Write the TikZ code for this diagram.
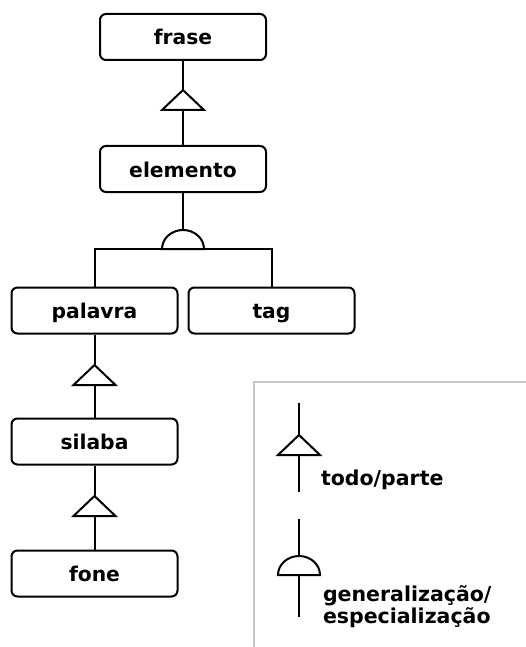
\documentclass[tikz,border=0pt]{standalone}
\usepackage{fontspec}
\setmainfont{DejaVu Sans}
\begin{document}
\begin{tikzpicture}[x=1pt,y=-1pt,
  line width=2pt,
  classbox/.style={draw=black, line width=2pt, rounded corners=6pt,
    minimum width=166pt, minimum height=46pt, inner sep=0pt,
    text height=16pt, text depth=0pt,
    font=\fontsize{20.3}{22}\selectfont\bfseries},
  legendtext/.style={anchor=base west, inner sep=0pt,
    font=\fontsize{20.5}{22}\selectfont\bfseries},
  wholepart/.pic={\draw[fill=white, line width=2pt, line join=miter]
    (0,0) -- (21,20) -- (-21,20) -- cycle;},
  genspec/.pic={\draw[fill=white, line width=2pt]
    (-21,0) arc[start angle=180, end angle=360, x radius=21, y radius=19] -- cycle;}
]
\useasboundingbox (0,0) rectangle (526,647);

% classes
\node[classbox] (frase)    at (183,37)    {frase};
\node[classbox] (elemento) at (183,169)   {elemento};
\node[classbox] (palavra)  at (94.5,310.5) {palavra};
\node[classbox] (tag)      at (271.5,310.5) {tag};
\node[classbox] (silaba)   at (94.5,441.5) {silaba};
\node[classbox] (fone)     at (94.5,573.5) {fone};

% whole/part links
\draw (frase) -- (elemento);
\pic at (183,90) {wholepart};
\draw (palavra) -- (silaba);
\pic at (94.5,365) {wholepart};
\draw (silaba) -- (fone);
\pic at (94.5,496) {wholepart};

% generalization/specialization fork
\coordinate (fork) at (183,249);
\coordinate (forkL) at (palavra.north |- fork);
\coordinate (forkR) at (tag.north |- fork);
\draw (elemento) -- (fork);
\draw (palavra.north) -- (forkL) -- (forkR) -- (tag.north);
\pic at (fork) {genspec};

% legend frame
\draw[black!22, line width=2pt] (526,382) -- (254,382) -- (254,647);

% legend: whole/part
\coordinate (lgA1) at (299,403);
\coordinate (lgA2) at (299,492);
\draw (lgA1) -- (lgA2);
\pic at (299,435) {wholepart};
\node[legendtext] (lgAtxt) at (320,485) {todo/parte};

% legend: generalization/specialization
\coordinate (lgB1) at (299,519);
\coordinate (lgB2) at (299,617);
\draw (lgB1) -- (lgB2);
\pic at (299,575) {genspec};
\node[legendtext] (lgBtxt1) at (322,601) {generalização/};
\node[legendtext] (lgBtxt2) at (322,623) {especialização};
\end{tikzpicture}
\end{document}
